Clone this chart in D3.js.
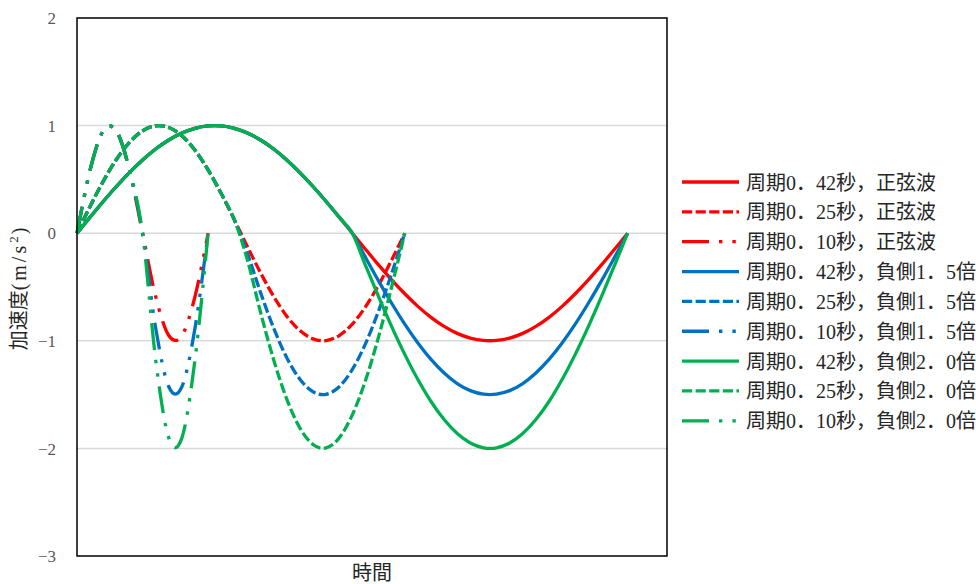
<!DOCTYPE html>
<html>
<head>
<meta charset="utf-8">
<script src="https://cdn.jsdelivr.net/npm/d3@7"></script>
<style>
  html, body { margin: 0; padding: 0; background: #ffffff; }
  svg { display: block; }
  .num { font-family: "Liberation Serif", "DejaVu Serif", serif; }
  .mix { font-family: "Liberation Serif", "Noto Sans CJK JP", serif; }
</style>
</head>
<body>
<div id="chart"></div>
<script>
const times = [0,0.01,0.02,0.03,0.04,0.05,0.06,0.07,0.08,0.09,0.10,0.11,0.12,0.13,0.14,0.15,0.16,0.17,0.18,0.19,0.20,
               0.21,0.22,0.23,0.24,0.25,0.26,0.27,0.28,0.29,0.30,0.31,0.32,0.33,0.34,0.35,0.36,0.37,0.38,0.39,0.40,0.41,0.42];

const red42   = [0,0.149,0.295,0.434,0.563,0.680,0.782,0.866,0.931,0.975,0.997,0.997,0.975,0.931,0.866,0.782,0.680,0.563,0.434,0.295,0.149,
                 0,-0.149,-0.295,-0.434,-0.563,-0.680,-0.782,-0.866,-0.931,-0.975,-0.997,-0.997,-0.975,-0.931,-0.866,-0.782,-0.680,-0.563,-0.434,-0.295,-0.149,0];
const blue42  = [0,0.149,0.295,0.434,0.563,0.680,0.782,0.866,0.931,0.975,0.997,0.997,0.975,0.931,0.866,0.782,0.680,0.563,0.434,0.295,0.149,
                 0,-0.224,-0.443,-0.651,-0.845,-1.020,-1.173,-1.299,-1.397,-1.463,-1.496,-1.496,-1.463,-1.397,-1.299,-1.173,-1.020,-0.845,-0.651,-0.443,-0.224,0];
const green42 = [0,0.149,0.295,0.434,0.563,0.680,0.782,0.866,0.931,0.975,0.997,0.997,0.975,0.931,0.866,0.782,0.680,0.563,0.434,0.295,0.149,
                 0,-0.298,-0.590,-0.868,-1.126,-1.360,-1.564,-1.732,-1.862,-1.950,-1.994,-1.994,-1.950,-1.862,-1.732,-1.564,-1.360,-1.126,-0.868,-0.590,-0.298,0];

const red25   = [0,0.249,0.482,0.685,0.844,0.951,0.998,0.982,0.905,0.771,0.588,0.368,0.125,
                 -0.125,-0.368,-0.588,-0.771,-0.905,-0.982,-0.998,-0.951,-0.844,-0.685,-0.482,-0.249,0];
const blue25  = [0,0.249,0.482,0.685,0.844,0.951,0.998,0.982,0.905,0.771,0.588,0.368,0.125,
                 -0.188,-0.552,-0.882,-1.157,-1.357,-1.473,-1.497,-1.427,-1.266,-1.028,-0.723,-0.374,0];
const green25 = [0,0.249,0.482,0.685,0.844,0.951,0.998,0.982,0.905,0.771,0.588,0.368,0.125,
                 -0.250,-0.736,-1.176,-1.542,-1.810,-1.964,-1.996,-1.902,-1.688,-1.370,-0.964,-0.498,0];

const red10   = [0,0.588,0.951,0.951,0.588,0,-0.588,-0.951,-0.951,-0.588,0];
const blue10  = [0,0.588,0.951,0.951,0.588,0,-0.882,-1.427,-1.427,-0.882,0];
const green10 = [0,0.588,0.951,0.951,0.588,0,-1.176,-1.902,-1.902,-1.176,0];

const seriesNames = [
  "周期0．42秒，正弦波", "周期0．25秒，正弦波", "周期0．10秒，正弦波",
  "周期0．42秒，負側1．5倍", "周期0．25秒，負側1．5倍", "周期0．10秒，負側1．5倍",
  "周期0．42秒，負側2．0倍", "周期0．25秒，負側2．0倍", "周期0．10秒，負側2．0倍"
];
const seriesValues = [red42, red25, red10, blue42, blue25, blue10, green42, green25, green10];
const seriesColors = ["#FF0000","#FF0000","#FF0000","#0070C0","#0070C0","#0070C0","#00B050","#00B050","#00B050"];
const seriesStyles = ["solid","dash","lgdashdotdot","solid","dash","lgdashdotdot","solid","dash","lgdashdotdot"];

const yTicks = [2, 1, 0, -1, -2, -3];
const yTitle = "加速度";
const yUnit = "(m/s";
const xTitle = "時間";

// ---- layout ----
const W = 976, H = 584;
const plot = { left: 77, top: 18, right: 667, bottom: 556 };
const dashes = { solid: null, dash: "10.2,3.4", lgdashdotdot: "27,10,3.4,10,3.4,10" };

const svg = d3.select("#chart").append("svg").attr("width", W).attr("height", H)
  .style("background", "#fff");

const x = d3.scaleLinear().domain([0, 0.45]).range([plot.left, plot.right]);
const y = d3.scaleLinear().domain([-3, 2]).range([plot.bottom, plot.top]);

// gridlines
svg.append("g").selectAll("line").data(yTicks.filter(d => d !== 2 && d !== -3)).join("line")
  .attr("x1", plot.left).attr("x2", plot.right)
  .attr("y1", d => y(d)).attr("y2", d => y(d))
  .attr("stroke", "#d9d9d9").attr("stroke-width", 1.5);

// y axis labels
const yAxis = d3.axisLeft(y).tickValues(yTicks).tickSize(0).tickPadding(21)
  .tickFormat(d => d < 0 ? "\u2212" + Math.abs(d) : String(d));
const gy = svg.append("g").attr("transform", `translate(${plot.left},0)`).call(yAxis)
  .attr("font-family", null);
gy.select(".domain").remove();
gy.selectAll("text").attr("class", "num").attr("font-size", 17).attr("fill", "#595959")
  .attr("dy", "0.33em");

// series
const line = d3.line().x(d => x(d[0])).y(d => y(d[1])).curve(d3.curveCardinal.tension(0));
const gS = svg.append("g");
seriesValues.forEach((vals, i) => {
  const pts = vals.map((v, k) => [times[k], v]);
  gS.append("path").datum(pts)
    .attr("d", line)
    .attr("fill", "none")
    .attr("stroke", seriesColors[i])
    .attr("stroke-width", 3.3)
    .attr("stroke-linejoin", "round")
    .attr("stroke-dasharray", dashes[seriesStyles[i]]);
});

// plot border
svg.append("rect")
  .attr("x", plot.left).attr("y", plot.top)
  .attr("width", plot.right - plot.left).attr("height", plot.bottom - plot.top)
  .attr("fill", "none").attr("stroke", "#000").attr("stroke-width", 1.5);

// axis titles
const yt = svg.append("text")
  .attr("class", "mix")
  .attr("transform", `translate(26,${(plot.top + plot.bottom) / 2 + 2}) rotate(-90)`)
  .attr("text-anchor", "middle")
  .attr("font-size", 20).attr("fill", "#262626");
yt.append("tspan").text(yTitle);
yt.append("tspan").attr("letter-spacing", 3).text(yUnit);
yt.append("tspan").attr("font-size", 13).attr("dy", -8).attr("letter-spacing", 2).text("2");
yt.append("tspan").attr("dy", 8).text(")");

svg.append("text")
  .attr("class", "mix")
  .attr("x", (plot.left + plot.right) / 2).attr("y", 580)
  .attr("text-anchor", "middle")
  .attr("font-size", 20).attr("fill", "#262626")
  .text(xTitle);

// legend
const legY0 = 182, legStep = 29.85;
const lg = svg.append("g");
seriesNames.forEach((name, i) => {
  const yy = legY0 + i * legStep;
  lg.append("line").attr("x1", 682).attr("x2", 739).attr("y1", yy).attr("y2", yy)
    .attr("stroke", seriesColors[i]).attr("stroke-width", 3.3)
    .attr("stroke-dasharray", dashes[seriesStyles[i]]);
  lg.append("text").attr("class", "mix").attr("x", 746).attr("y", yy + 7.5)
    .attr("font-size", 20).attr("fill", "#262626")
    .text(name);
});
</script>
</body>
</html>
